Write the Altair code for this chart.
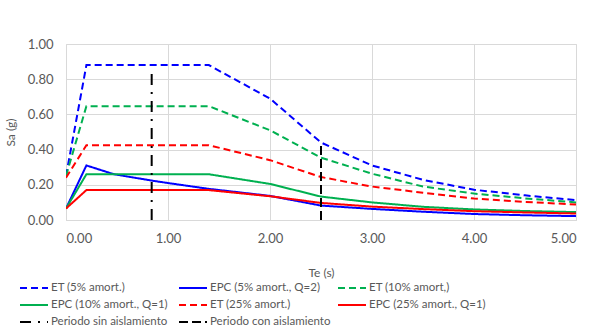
import altair as alt
import pandas as pd

# Period grid for the elastic (ET) spectra and the constant-plateau EPC spectra
T_main = [0.0, 0.2, 1.4, 2.0, 2.5, 3.0, 3.5, 4.0, 4.5, 5.0]
ET5 = [0.25, 0.88, 0.88, 0.69, 0.44, 0.31, 0.228, 0.172, 0.14, 0.113]
ET10 = [0.25, 0.647, 0.647, 0.51, 0.354, 0.263, 0.19, 0.15, 0.123, 0.10]
ET25 = [0.24, 0.425, 0.425, 0.34, 0.244, 0.19, 0.155, 0.122, 0.103, 0.088]
EPC10 = [0.065, 0.26, 0.26, 0.205, 0.133, 0.10, 0.075, 0.06, 0.051, 0.045]
EPC25 = [0.065, 0.17, 0.17, 0.135, 0.097, 0.076, 0.062, 0.05, 0.043, 0.037]

T_epc5 = [0.0, 0.2, 0.47, 0.84, 1.0, 1.4, 2.0, 2.5, 3.0, 3.5, 4.0, 4.5, 5.0]
EPC5 = [0.065, 0.31, 0.26, 0.224, 0.21, 0.177, 0.137, 0.082, 0.063, 0.047, 0.034, 0.027, 0.022]

# Vertical period markers
T_sin = 0.84
Sa_sin = [0.0, 0.85]
T_con = 2.5
Sa_con = [0.0, 0.44]

series_names = [
    "ET (5% amort.)",
    "EPC (5% amort., Q=2)",
    "ET (10% amort,)",
    "EPC (10% amort., Q=1)",
    "ET (25% amort.)",
    "EPC (25% amort., Q=1)",
    "Periodo sin aislamiento",
    "Periodo con aislamiento",
]
colors = ["#0000FF", "#0000FF", "#00B050", "#00B050", "#FF0000", "#FF0000", "#000000", "#000000"]
dashes = [[7, 4], [1, 0], [7, 4], [1, 0], [7, 4], [1, 0], [11, 7, 2, 7], [9, 4]]
widths = [2, 2, 2, 2, 2, 2, 3, 3]

# legend grid (row-major, 3 columns)
legend_col = [0, 1, 2, 0, 1, 2, 0, 1]
legend_row = [0, 0, 0, 1, 1, 1, 2, 2]

rows = []
def add(name, ts, vals):
    for i, (t, v) in enumerate(zip(ts, vals)):
        rows.append({"serie": name, "T": t, "Sa": v, "idx": i})

add(series_names[0], T_main, ET5)
add(series_names[1], T_epc5, EPC5)
add(series_names[2], T_main, ET10)
add(series_names[3], T_main, EPC10)
add(series_names[4], T_main, ET25)
add(series_names[5], T_main, EPC25)
add(series_names[6], [T_sin, T_sin], Sa_sin)
add(series_names[7], [T_con, T_con], Sa_con)
df = pd.DataFrame(rows)

leg_df = pd.DataFrame({"serie": series_names, "col": legend_col, "row": legend_row})

FONT = "Lato"
GRAY = "#595959"

color_enc = alt.Color("serie:N", scale=alt.Scale(domain=series_names, range=colors), legend=None)
dash_enc = alt.StrokeDash("serie:N", scale=alt.Scale(domain=series_names, range=dashes), legend=None)
width_enc = alt.StrokeWidth("serie:N", scale=alt.Scale(domain=series_names, range=widths), legend=None)

lines = (
    alt.Chart(df)
    .mark_line(clip=True)
    .encode(
        x=alt.X(
            "T:Q",
            scale=alt.Scale(domain=[0, 5], nice=False),
            axis=alt.Axis(
                title="Te (s)",
                values=[0, 1, 2, 3, 4, 5],
                format=".2f",
                tickSize=0,
                labelPadding=12,
                titlePadding=22,
                titleFontWeight="normal",
                titleFontSize=12,
                titleColor=GRAY,
                labelColor=GRAY,
                labelFontSize=13,
                labelFont=FONT,
                titleFont=FONT,
                domainColor="#D9D9D9",
                gridColor="#D9D9D9",
            ),
        ),
        y=alt.Y(
            "Sa:Q",
            scale=alt.Scale(domain=[0, 1], nice=False),
            axis=alt.Axis(
                title="Sa (g)",
                values=[0, 0.2, 0.4, 0.6, 0.8, 1.0],
                format=".2f",
                tickSize=0,
                labelPadding=13,
                titlePadding=10,
                titleFontWeight="normal",
                titleFontSize=12,
                titleColor=GRAY,
                labelColor=GRAY,
                labelFontSize=13,
                labelFont=FONT,
                titleFont=FONT,
                domain=False,
                gridColor="#D9D9D9",
            ),
        ),
        color=color_enc,
        strokeDash=dash_enc,
        strokeWidth=width_enc,
        detail="serie:N",
        order="idx:Q",
    )
)

# Legend laid out below the plot (pixel layout relative to the plot area)
leg_base = alt.Chart(leg_df).transform_calculate(
    sx="-46 + datum.col * 159",
    ex="-18 + datum.col * 159",
    lx="-15 + datum.col * 159",
    ly="244 + datum.row * 17",
)

leg_sym = leg_base.mark_rule().encode(
    x=alt.X("sx:Q", scale=None),
    x2="ex:Q",
    y=alt.Y("ly:Q", scale=None),
    color=color_enc,
    strokeDash=dash_enc,
    strokeWidth=width_enc,
)

leg_txt = leg_base.mark_text(
    align="left", baseline="middle", font=FONT, fontSize=11.5, color=GRAY
).encode(
    x=alt.X("lx:Q", scale=None),
    y=alt.Y("ly:Q", scale=None),
    text="serie:N",
)

chart = (
    alt.layer(lines, leg_sym, leg_txt)
    .properties(
        width=510,
        height=176,
        autosize=alt.AutoSizeParams(type="none"),
        padding={"left": 66, "top": 44, "right": 24, "bottom": 109},
    )
    .configure_view(stroke=None)
    .configure(background="white")
)

chart.save("out.html", embed_options={"renderer": "svg", "actions": False})
